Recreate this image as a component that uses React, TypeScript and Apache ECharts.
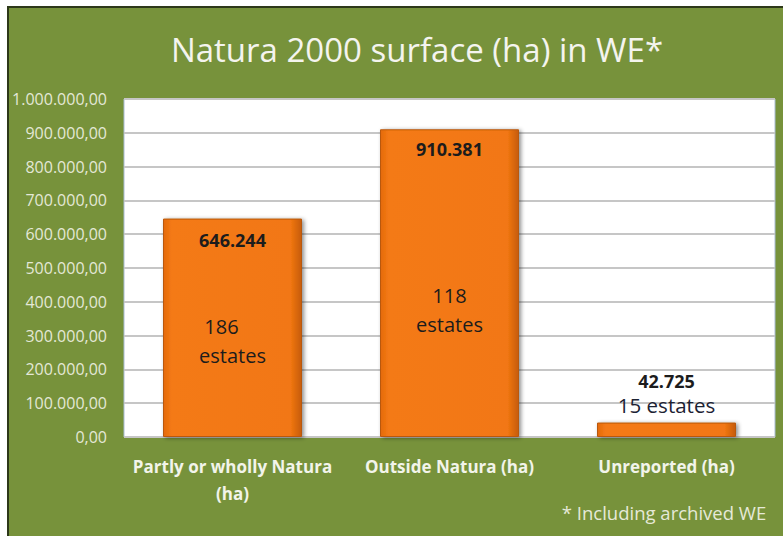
import React, { useEffect, useRef } from "react";
import * as echarts from "echarts";

const categories = ["Partly or wholly Natura\n(ha)", "Outside Natura (ha)", "Unreported (ha)"];
const surfaceValues = [646244, 910381, 42725];
const estatesCounts = [186, 118, 15];
const yTicks = { min: 0, max: 1000000, interval: 100000 };
const titleText = "Natura 2000 surface (ha) in WE*";
const footnoteText = "* Including archived WE";

const FONT = "'Open Sans', 'Noto Sans', sans-serif";

function groupThousands(n: number): string {
  const s = Math.round(n).toString();
  return s.replace(/\B(?=(\d{3})+(?!\d))/g, ".");
}

export default function App() {
  const ref = useRef<HTMLDivElement>(null);
  useEffect(() => {
    if (!ref.current) return;
    const chart = echarts.init(ref.current, undefined, { renderer: "svg" });
    const barGrad = new echarts.graphic.LinearGradient(0, 0, 1, 0, [
      { offset: 0, color: "#e46a0c" },
      { offset: 0.06, color: "#f47a14" },
      { offset: 0.92, color: "#f27712" },
      { offset: 1, color: "#c65c0a" },
    ]);
    const valueLabelCfg = [
      { position: "insideTop", distance: 9 },
      { position: "insideTop", distance: 8 },
      { position: "top", distance: 6 },
    ];
    const estateOffsets = [
      [0, 13],
      [0, 27],
      [0, 0],
    ];
    chart.setOption({
      animation: false,
      backgroundColor: "transparent",
      textStyle: { fontFamily: FONT },
      graphic: [
        {
          type: "text",
          x: 417,
          y: 49,
          style: {
            text: titleText,
            fill: "#f4f4ee",
            font: `33px ${FONT}`,
            align: "center",
            verticalAlign: "middle",
          },
        },
        {
          type: "text",
          x: 664,
          y: 512,
          style: {
            text: footnoteText,
            fill: "#e6e9d8",
            font: `18.5px ${FONT}`,
            align: "center",
            verticalAlign: "middle",
          },
        },
      ],
      grid: {
        left: 124,
        top: 99,
        right: 8,
        bottom: 99,
        show: true,
        backgroundColor: "#ffffff",
        borderColor: "#aabcd4",
        borderWidth: 1,
      },
      xAxis: {
        type: "category",
        data: categories,
        axisLine: { show: false },
        axisTick: { show: false },
        axisLabel: {
          interval: 0,
          color: "#f2f4ea",
          fontWeight: "bold",
          fontSize: 17,
          fontFamily: FONT,
          lineHeight: 27,
          margin: 16,
        },
      },
      yAxis: {
        type: "value",
        min: yTicks.min,
        max: yTicks.max,
        interval: yTicks.interval,
        axisLine: { show: false },
        axisTick: { show: false },
        splitLine: { lineStyle: { color: "#c6c6c6", width: 2 } },
        axisLabel: {
          color: "#e4e8d6",
          fontSize: 16,
          fontFamily: FONT,
          margin: 17,
          formatter: (v: number) => groupThousands(v) + ",00",
        },
      },
      series: [
        {
          type: "bar",
          barWidth: 139,
          barGap: "-100%",
          data: surfaceValues.map((v, i) => ({
            value: v,
            label: {
              show: true,
              position: valueLabelCfg[i].position,
              distance: valueLabelCfg[i].distance,
              formatter:
                i === 2
                  ? `{b|${groupThousands(v)}}\n{n|${estatesCounts[i]} estates}`
                  : `{b|${groupThousands(v)}}`,
              rich: {
                b: { fontSize: 18, fontWeight: "bold", color: "#1c1c1c", fontFamily: FONT, lineHeight: 24 },
                n: { fontSize: 20.5, color: "#1c2233", fontFamily: FONT, lineHeight: 24 },
              },
            },
          })),
          itemStyle: {
            color: barGrad,
            borderColor: "#b9580b",
            borderWidth: 1,
            shadowColor: "rgba(0,0,0,0.45)",
            shadowBlur: 4,
            shadowOffsetX: 2,
            shadowOffsetY: 1,
          },
        },
        {
          type: "bar",
          barWidth: 139,
          barGap: "-100%",
          silent: true,
          itemStyle: { color: "rgba(0,0,0,0)" },
          data: surfaceValues.map((v, i) => ({
            value: v,
            label: {
              show: i !== 2,
              position: "inside",
              offset: estateOffsets[i],
              formatter: `{c|${estatesCounts[i]}}\n{e|estates}`,
              rich: {
                c: { fontSize: 20, color: "#1c1c1c", fontFamily: FONT, lineHeight: 29, padding: i === 0 ? [0, 22, 0, 0] : [0, 0, 0, 0] },
                e: { fontSize: 20, color: "#1c1c1c", fontFamily: FONT, lineHeight: 29 },
              },
            },
          })),
        },
      ],
    });
    return () => chart.dispose();
  }, []);

  return (
    <div style={{ position: "absolute", left: 0, top: 0, width: 783, height: 536, background: "#ffffff", overflow: "hidden" }}>
      <div
        style={{
          position: "absolute",
          left: 7,
          top: 6,
          width: 776,
          height: 530,
          background: "#77923b",
          borderTop: "2px solid #2d3819",
          borderLeft: "2px solid #2d3819",
          boxSizing: "border-box",
        }}
      />
      <div ref={ref} style={{ position: "absolute", left: 0, top: 0, width: 783, height: 536 }} />
    </div>
  );
}
